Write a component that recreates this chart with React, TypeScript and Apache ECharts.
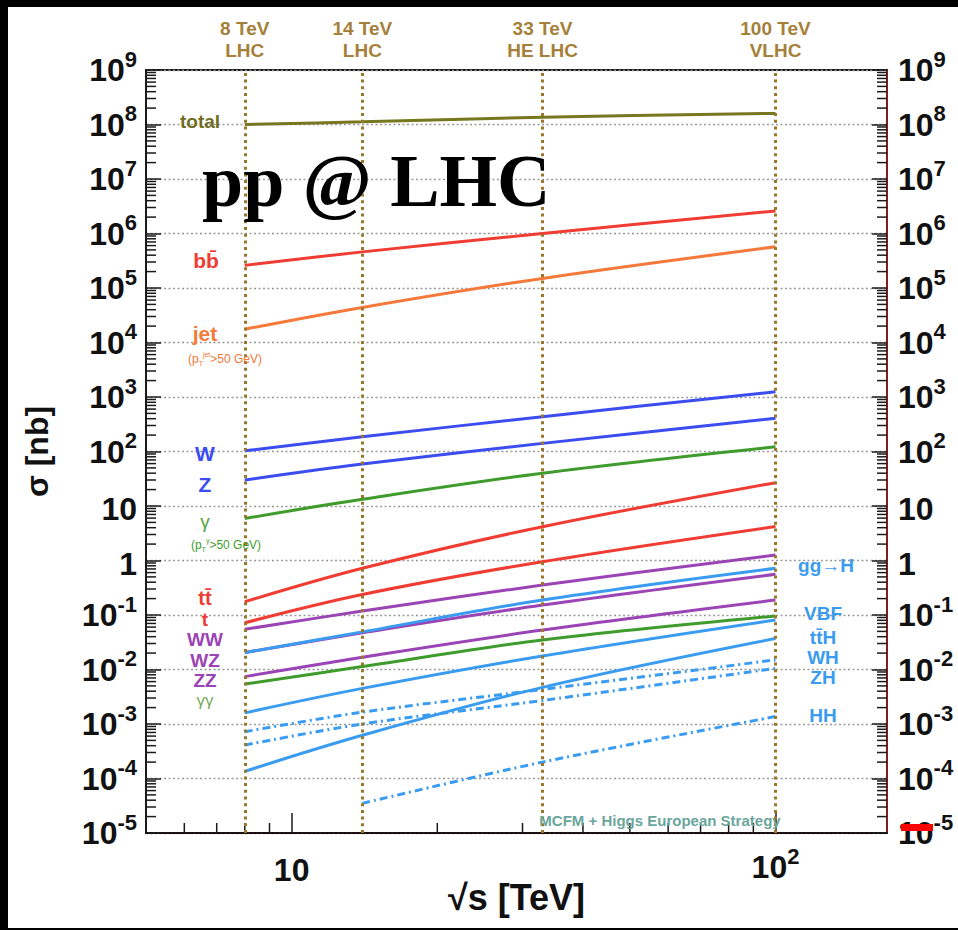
import React, { useEffect, useRef } from 'react';
import * as echarts from 'echarts';

// ---- data (cross sections in nb vs sqrt(s) in TeV) ----
const energies = [8, 14, 33, 100];
const energiesHH = [14, 33, 100];

const sigmaTotal = [1.0e8, 1.12e8, 1.36e8, 1.6e8];
const sigmaBB = [2.6e5, 4.6e5, 1.0e6, 2.6e6];
const sigmaJet = [1.75e4, 4.4e4, 1.5e5, 5.7e5];
const sigmaW = [103, 186, 435, 1250];
const sigmaZ = [30, 59, 141, 407];
const sigmaGamma = [5.9, 13.3, 40, 122];
const sigmaTT = [0.175, 0.72, 4.17, 26.8];
const sigmaT = [0.072, 0.238, 0.95, 4.2];
const sigmaWW = [0.0546, 0.118, 0.355, 1.26];
const sigmaWZ = [0.0205, 0.047, 0.152, 0.56];
const sigmaZZ = [0.0074, 0.0168, 0.053, 0.188];
const sigmaGG = [0.0054, 0.0113, 0.0348, 0.096];
const sigmaGGH = [0.0204, 0.049, 0.188, 0.72];
const sigmaVBF = [0.0016, 0.0045, 0.0177, 0.081];
const sigmaTTH = [1.35e-4, 6.2e-4, 4.7e-3, 3.7e-2];
const sigmaWH = [7.2e-4, 1.65e-3, 4.3e-3, 1.5e-2];
const sigmaZH = [4.1e-4, 1.0e-3, 2.7e-3, 1.05e-2];
const sigmaHH = [3.5e-5, 2.0e-4, 1.37e-3];

const colliderEnergies = [8, 14, 33, 100];
const colliderNames = ['8 TeV\nLHC', '14 TeV\nLHC', '33 TeV\nHE LHC', '100 TeV\nVLHC'];

const yTickExponents = [-5, -4, -3, -2, -1, 0, 1, 2, 3, 4, 5, 6, 7, 8, 9];
const yTickLabels = [
  '{b|10}{s|-5}', '{b|10}{s|-4}', '{b|10}{s|-3}', '{b|10}{s|-2}', '{b|10}{s|-1}',
  '{c|1}', '{c|10}', '{b|10}{s|2}', '{b|10}{s|3}', '{b|10}{s|4}', '{b|10}{s|5}',
  '{b|10}{s|6}', '{b|10}{s|7}', '{b|10}{s|8}', '{b|10}{s|9}',
];
const xTickValues = [10, 100];
const xTickLabels = ['{c|10}', '{b|10}{s|2}'];
const xMinorTickValues = [6, 7, 8, 9, 20, 30, 40, 50, 60, 70, 80, 90];
const yMinorMultipliers = [2, 3, 4, 5, 6, 7, 8, 9];

const X_MIN = 5;
const X_MAX = 170;
const Y_MIN = 1e-5;
const Y_MAX = 1e9;

const SANS = '"Liberation Sans", Arial, sans-serif';

const pairs = (xs: number[], ys: number[]) => xs.map((x, i) => [x, ys[i]]);

const C = {
  olive: '#77771f',
  red: '#f03c32',
  orange: '#f5793a',
  blue: '#3b4cf0',
  green: '#3f9c2c',
  purple: '#9b44b5',
  lblue: '#3a9cf0',
  gold: '#9a772c',
  goldText: '#a5803a',
};

const richAxis = {
  b: { fontSize: 32, lineHeight: 32, fontWeight: 'bold', fontFamily: SANS, color: '#111', verticalAlign: 'bottom' },
  s: { fontSize: 22, lineHeight: 22, fontWeight: 'bold', fontFamily: SANS, color: '#111', verticalAlign: 'bottom', padding: [0, 0, 16, 0] },
  c: { fontSize: 32, lineHeight: 32, fontWeight: 'bold', fontFamily: SANS, color: '#111', padding: [6, 0, 0, 0] },
};

const yFormatter = (v: number) => {
  const e = Math.round(Math.log10(v));
  const i = yTickExponents.indexOf(e);
  return i >= 0 ? yTickLabels[i] : '';
};
const xFormatter = (v: number) => {
  const i = xTickValues.findIndex((t) => Math.abs(t - v) / t < 1e-6);
  return i >= 0 ? xTickLabels[i] : '';
};

const yMinorData: number[][] = [];
for (let e = -5; e < 9; e++) {
  for (const m of yMinorMultipliers) yMinorData.push([X_MIN, m * Math.pow(10, e)]);
}
const xMinorData = xMinorTickValues.map((v) => [v, Y_MIN]);

const line = (name: string, xs: number[], ys: number[], color: string, dash?: number[]) => ({
  name,
  type: 'line',
  data: pairs(xs, ys),
  showSymbol: false,
  symbol: 'none',
  smooth: 0.35,
  lineStyle: { color, width: 3, type: dash || 'solid' },
  z: 4,
});

const txt = (text: string, x: number, y: number, fill: string, size: number, weight = 'bold') => ({
  type: 'text',
  x,
  y,
  silent: true,
  z: 10,
  style: {
    text,
    fill,
    fontSize: size,
    fontWeight: weight,
    fontFamily: SANS,
    align: 'center',
    verticalAlign: 'middle',
    textAlign: 'center',
    textVerticalAlign: 'middle',
  },
});

const ptText = (inner: string, x: number, y: number, fill: string) => ({
  type: 'text',
  x,
  y,
  silent: true,
  z: 10,
  style: {
    text: '(p{t|T}{j|' + inner + '}>50 GeV)',
    fill,
    fontSize: 12,
    fontWeight: 'normal',
    fontFamily: SANS,
    align: 'center',
    verticalAlign: 'middle',
    textAlign: 'center',
    textVerticalAlign: 'middle',
    rich: {
      t: { fontSize: 7, fill, fontFamily: SANS, verticalAlign: 'bottom' },
      j: { fontSize: 7, fill, fontFamily: SANS, verticalAlign: 'bottom', padding: [0, 0, 9, 0] },
    },
  },
});

const option: any = {
  animation: false,
  backgroundColor: 'transparent',
  textStyle: { fontFamily: SANS },
  grid: {
    left: 146,
    top: 70,
    width: 741,
    height: 763,
    containLabel: false,
    outerBoundsMode: 'none',
    show: true,
    borderColor: '#1a1a1a',
    borderWidth: 2,
    backgroundColor: 'transparent',
  },
  xAxis: {
    type: 'log',
    logBase: 10,
    min: X_MIN,
    max: X_MAX,
    name: '\u221as [TeV]',
    nameLocation: 'middle',
    nameGap: 46,
    nameMoveOverlap: false,
    nameTextStyle: { fontSize: 36, fontWeight: 'bold', color: '#111', fontFamily: SANS },
    axisLine: { show: true, lineStyle: { color: '#1a1010', width: 2 } },
    axisTick: { show: true, inside: true, length: 20, lineStyle: { color: '#1a1a1a', width: 1.5 } },
    minorTick: { show: false },
    splitLine: { show: false },
    axisLabel: { margin: 18, formatter: xFormatter, rich: richAxis, showMinLabel: false, showMaxLabel: false },
  },
  yAxis: [
    {
      type: 'log',
      logBase: 10,
      min: Y_MIN,
      max: Y_MAX,
      interval: 1,
      position: 'left',
      name: '\u03c3 [nb]',
      nameLocation: 'middle',
      nameGap: 93,
      nameMoveOverlap: false,
      nameTextStyle: { fontSize: 32, fontWeight: 'bold', color: '#111', fontFamily: SANS },
      axisLine: { show: true, lineStyle: { color: '#1a1a1a', width: 2 } },
      axisTick: { show: true, inside: true, length: 15, lineStyle: { color: '#1a1a1a', width: 1.5 } },
      splitLine: { show: true, lineStyle: { color: '#999999', width: 1.3, type: [2, 2.5] } },
      axisLabel: { margin: 9, formatter: yFormatter, rich: richAxis, align: 'right' },
    },
    {
      type: 'log',
      logBase: 10,
      min: Y_MIN,
      max: Y_MAX,
      interval: 1,
      position: 'right',
      axisLine: { show: true, lineStyle: { color: '#a02020', width: 1.5 } },
      axisTick: { show: true, inside: true, length: 15, lineStyle: { color: '#1a1a1a', width: 1.5 } },
      splitLine: { show: false },
      axisLabel: { margin: 11, formatter: yFormatter, rich: richAxis, align: 'left' },
    },
  ],
  series: [
    {
      name: 'yMinorTicks',
      type: 'custom',
      coordinateSystem: 'cartesian2d',
      silent: true,
      clip: false,
      data: yMinorData,
      encode: { x: 0, y: 1 },
      z: 3,
      renderItem: (params: any, api: any) => {
        const pt = api.coord([api.value(0), api.value(1)]);
        const cs = params.coordSys;
        const st = { stroke: '#1a1a1a', lineWidth: 1.5 };
        return {
          type: 'group',
          children: [
            { type: 'line', shape: { x1: cs.x, y1: pt[1], x2: cs.x + 10, y2: pt[1] }, style: st },
            { type: 'line', shape: { x1: cs.x + cs.width, y1: pt[1], x2: cs.x + cs.width - 10, y2: pt[1] }, style: st },
          ],
        };
      },
    },
    {
      name: 'xMinorTicks',
      type: 'custom',
      coordinateSystem: 'cartesian2d',
      silent: true,
      clip: false,
      data: xMinorData,
      encode: { x: 0, y: 1 },
      z: 3,
      renderItem: (params: any, api: any) => {
        const pt = api.coord([api.value(0), api.value(1)]);
        const cs = params.coordSys;
        const yb = cs.y + cs.height;
        return {
          type: 'line',
          shape: { x1: pt[0], y1: yb, x2: pt[0], y2: yb - 10 },
          style: { stroke: '#1a1a1a', lineWidth: 1.5 },
        };
      },
    },
    line('total', energies, sigmaTotal, C.olive),
    line('bb', energies, sigmaBB, C.red),
    line('jet', energies, sigmaJet, C.orange),
    line('W', energies, sigmaW, C.blue),
    line('Z', energies, sigmaZ, C.blue),
    line('gamma', energies, sigmaGamma, C.green),
    line('tt', energies, sigmaTT, C.red),
    line('t', energies, sigmaT, C.red),
    line('WW', energies, sigmaWW, C.purple),
    line('WZ', energies, sigmaWZ, C.purple),
    line('ZZ', energies, sigmaZZ, C.purple),
    line('gammagamma', energies, sigmaGG, C.green),
    line('ggH', energies, sigmaGGH, C.lblue),
    line('VBF', energies, sigmaVBF, C.lblue),
    line('ttH', energies, sigmaTTH, C.lblue),
    line('WH', energies, sigmaWH, C.lblue, [8, 4, 2, 4]),
    line('ZH', energies, sigmaZH, C.lblue, [8, 4, 2, 4]),
    {
      ...line('HH', energiesHH, sigmaHH, C.lblue, [8, 4, 2, 4]),
      markLine: {
        silent: true,
        symbol: 'none',
        animation: false,
        lineStyle: { color: C.gold, width: 3, type: [3, 3.7] },
        label: {
          show: true,
          position: 'end',
          distance: 9,
          formatter: (p: any) => p.name,
          color: C.goldText,
          fontSize: 19,
          fontWeight: 'bold',
          lineHeight: 22,
          fontFamily: SANS,
          align: 'center',
        },
        emphasis: { disabled: true },
        data: colliderEnergies.map((e, i) => ({ xAxis: e, name: colliderNames[i] })),
      },
    },
  ],
  graphic: [
    {
      type: 'text',
      x: 202,
      y: 181,
      silent: true,
      z: 10,
      style: {
        text: 'pp @ LHC',
        fill: '#000',
        fontSize: 74,
        fontWeight: 'bold',
        fontFamily: '"Liberation Serif", "Times New Roman", serif',
        align: 'left',
        verticalAlign: 'middle',
        textAlign: 'left',
        textVerticalAlign: 'middle',
      },
    },
    txt('total', 200, 121, '#6e6e1e', 19),
    txt('bb\u0304', 206, 260, C.red, 21),
    txt('jet', 205, 333, C.orange, 21),
    ptText('jet', 225, 359, C.orange),
    txt('W', 205, 453, C.blue, 21),
    txt('Z', 205, 484, C.blue, 21),
    txt('\u03b3', 205, 521, '#58a640', 19, 'normal'),
    ptText('\u03b3', 226, 545, C.green),
    txt('tt\u0304', 205, 598, C.red, 20),
    txt('t', 205, 619, C.red, 19),
    txt('WW', 205, 639, C.purple, 19),
    txt('WZ', 205, 660, C.purple, 19),
    txt('ZZ', 205, 680, C.purple, 19),
    txt('\u03b3\u03b3', 205, 700, '#7aab5c', 17, 'normal'),
    txt('gg\u2192H', 826, 565, C.lblue, 19),
    txt('VBF', 823, 613, C.lblue, 19),
    txt('tt\u0304H', 823, 637, C.lblue, 19),
    txt('WH', 823, 657, C.lblue, 19),
    txt('ZH', 823, 677, C.lblue, 19),
    txt('HH', 823, 715, C.lblue, 19),
    txt('MCFM + Higgs European Strategy', 660, 820, '#6aa69c', 15),
    {
      type: 'rect',
      silent: true,
      z: 20,
      shape: { x: 901, y: 824, width: 32, height: 7 },
      style: { fill: '#ff0000' },
    },
  ],
};

export default function App() {
  const ref = useRef<HTMLDivElement>(null);
  useEffect(() => {
    if (!ref.current) return;
    const chart = echarts.init(ref.current, null, { renderer: 'svg' });
    chart.setOption(option);
    return () => chart.dispose();
  }, []);
  return (
    <div style={{ position: 'fixed', left: 0, top: 0, width: 958, height: 930, background: '#000', overflow: 'hidden' }}>
      <div style={{ position: 'absolute', left: 8, top: 7, width: 950, height: 921, background: '#fff' }} />
      <div ref={ref} style={{ position: 'absolute', left: 0, top: 0, width: 958, height: 930 }} />
    </div>
  );
}
